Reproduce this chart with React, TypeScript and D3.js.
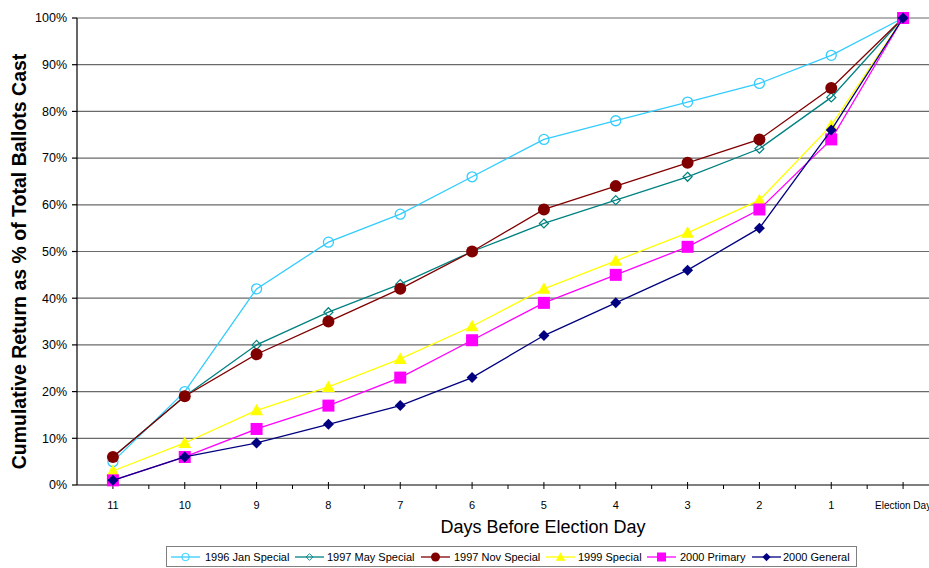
import React from "react";
import * as d3 from "d3";

const days = ["11", "10", "9", "8", "7", "6", "5", "4", "3", "2", "1", "Election Day"];
const yTicks = [0, 10, 20, 30, 40, 50, 60, 70, 80, 90, 100];

const jan1996 = [5, 20, 42, 52, 58, 66, 74, 78, 82, 86, 92, 100];
const may1997 = [6, 19, 30, 37, 43, 50, 56, 61, 66, 72, 83, 100];
const nov1997 = [6, 19, 28, 35, 42, 50, 59, 64, 69, 74, 85, 100];
const special1999 = [3, 9, 16, 21, 27, 34, 42, 48, 54, 61, 77, 100];
const primary2000 = [1, 6, 12, 17, 23, 31, 39, 45, 51, 59, 74, 100];
const general2000 = [1, 6, 9, 13, 17, 23, 32, 39, 46, 55, 76, 100];

type Shape = "openCircle" | "openDiamond" | "circle" | "triangle" | "square" | "diamond";

const seriesList: { name: string; values: number[]; color: string; shape: Shape }[] = [
  { name: "1996 Jan Special", values: jan1996, color: "#33CCFF", shape: "openCircle" },
  { name: "1997 May Special", values: may1997, color: "#008080", shape: "openDiamond" },
  { name: "1997 Nov Special", values: nov1997, color: "#800000", shape: "circle" },
  { name: "1999 Special", values: special1999, color: "#FFFF00", shape: "triangle" },
  { name: "2000 Primary", values: primary2000, color: "#FF00FF", shape: "square" },
  { name: "2000 General", values: general2000, color: "#000080", shape: "diamond" },
];

const W = 929;
const H = 568;
const plotLeft = 77;
const plotRight = 939;
const plotTop = 18;
const plotBottom = 485;
const font = "'Liberation Sans', Arial, sans-serif";

function Marker({ shape, color, x, y }: { shape: Shape; color: string; x: number; y: number }) {
  switch (shape) {
    case "openCircle":
      return <circle cx={x} cy={y} r={5} fill="none" stroke={color} strokeWidth={1.3} />;
    case "circle":
      return <circle cx={x} cy={y} r={6} fill={color} />;
    case "openDiamond":
      return (
        <path
          d={`M${x},${y - 4.5}L${x + 4.5},${y}L${x},${y + 4.5}L${x - 4.5},${y}Z`}
          fill="none"
          stroke={color}
          strokeWidth={1.2}
        />
      );
    case "diamond":
      return <path d={`M${x},${y - 5.5}L${x + 5.5},${y}L${x},${y + 5.5}L${x - 5.5},${y}Z`} fill={color} />;
    case "square":
      return <rect x={x - 6} y={y - 6} width={12} height={12} fill={color} />;
    case "triangle":
      return <path d={`M${x},${y - 6.5}L${x + 6.5},${y + 5}L${x - 6.5},${y + 5}Z`} fill={color} />;
  }
}

export default function App() {
  const x = d3.scalePoint<string>().domain(days).range([plotLeft, plotRight]).padding(0.5);
  const y = d3.scaleLinear().domain([0, 100]).range([plotBottom, plotTop]);
  const step = x.step();

  const line = d3
    .line<number>()
    .x((_, i) => x(days[i]) as number)
    .y((d) => y(d));

  const legendItems = [
    { lx: 171, tx: 205 },
    { lx: 295, tx: 327 },
    { lx: 421, tx: 454 },
    { lx: 546, tx: 578 },
    { lx: 647, tx: 680 },
    { lx: 752, tx: 783 },
  ];

  return (
    <svg
      width={W}
      height={H}
      style={{ position: "absolute", left: 0, top: 0, background: "#fff" }}
      fontFamily={font}
    >
      {/* horizontal gridlines */}
      {yTicks.slice(1).map((t) => (
        <line key={t} x1={plotLeft} x2={W} y1={y(t)} y2={y(t)} stroke="#6a6a6a" strokeWidth={1.2} />
      ))}

      {/* y axis */}
      <line x1={plotLeft} x2={plotLeft} y1={plotTop} y2={plotBottom} stroke="#000" strokeWidth={1.2} />
      {yTicks.map((t) => (
        <g key={t}>
          <line x1={plotLeft - 5} x2={plotLeft} y1={y(t)} y2={y(t)} stroke="#000" strokeWidth={1.2} />
          <text x={plotLeft - 10} y={y(t)} dy="0.35em" textAnchor="end" fontSize={12.5} fill="#000">
            {t}%
          </text>
        </g>
      ))}

      {/* x axis */}
      <line x1={plotLeft} x2={W} y1={plotBottom} y2={plotBottom} stroke="#000" strokeWidth={1.2} />
      {days.map((d) => {
        const cx = x(d) as number;
        return (
          <g key={d}>
            <line x1={cx} x2={cx} y1={plotBottom - 3} y2={plotBottom + 4} stroke="#000" strokeWidth={1} />
            <line
              x1={cx + step / 2}
              x2={cx + step / 2}
              y1={plotBottom}
              y2={plotBottom + 4}
              stroke="#000"
              strokeWidth={1}
            />
            <text
              x={cx}
              y={505}
              dy="0.35em"
              textAnchor="middle"
              fontSize={d === "Election Day" ? 10 : 11}
              fill="#000"
            >
              {d}
            </text>
          </g>
        );
      })}

      {/* series */}
      {seriesList.map((s) => (
        <g key={s.name}>
          <path d={line(s.values) || ""} fill="none" stroke={s.color} strokeWidth={1.3} />
          {s.values.map((v, i) => (
            <Marker key={i} shape={s.shape} color={s.color} x={x(days[i]) as number} y={y(v)} />
          ))}
        </g>
      ))}

      {/* axis titles */}
      <text
        transform={`translate(26,${(plotTop + 505) / 2}) rotate(-90)`}
        textAnchor="middle"
        fontSize={19.5}
        fontWeight="bold"
        fill="#000"
      >
        Cumulative Return as % of Total Ballots Cast
      </text>
      <text x={543} y={527} dy="0.35em" textAnchor="middle" fontSize={18} fill="#000">
        Days Before Election Day
      </text>

      {/* legend */}
      <rect x={166.5} y={546.5} width={690} height={20} fill="#fff" stroke="#808080" strokeWidth={1} />
      {seriesList.map((s, i) => {
        const { lx, tx } = legendItems[i];
        const my = 557;
        return (
          <g key={s.name}>
            <line x1={lx} x2={lx + 29} y1={my} y2={my} stroke={s.color} strokeWidth={1.3} />
            <g transform={`translate(${lx + 14.5},${my}) scale(0.75) translate(${-(lx + 14.5)},${-my})`}>
              <Marker shape={s.shape} color={s.color} x={lx + 14.5} y={my} />
            </g>
            <text x={tx} y={my} dy="0.35em" fontSize={11} fill="#000">
              {s.name}
            </text>
          </g>
        );
      })}
    </svg>
  );
}
